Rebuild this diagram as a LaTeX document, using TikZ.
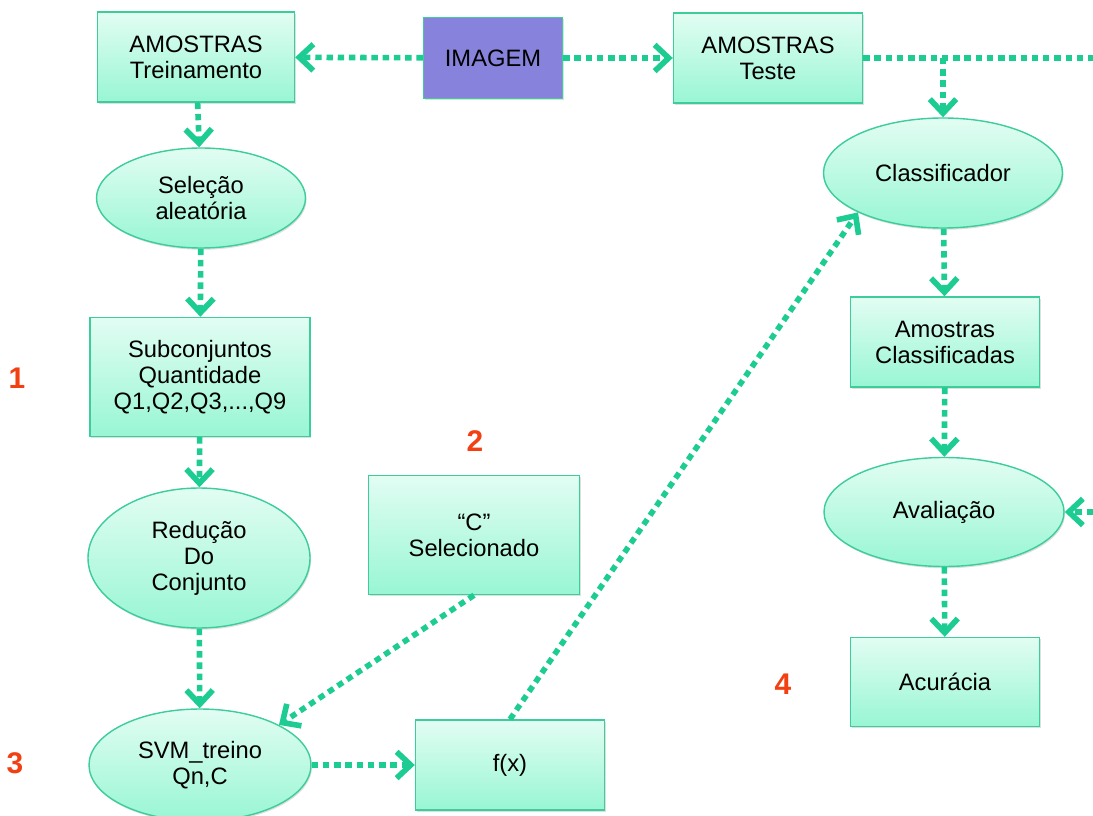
\documentclass[tikz,border=0pt]{standalone}
\usepackage{fontspec}
\setmainfont{Liberation Sans}
\usetikzlibrary{arrows.meta,shapes.geometric,shadows}

\definecolor{corfluxo}{RGB}{28,204,146}
\definecolor{borda}{RGB}{60,205,155}
\definecolor{mintA}{RGB}{226,253,243}
\definecolor{mintB}{RGB}{152,246,212}
\definecolor{roxo}{RGB}{135,131,220}
\definecolor{corpasso}{RGB}{242,64,18}

\tikzset{
  caixa/.style={rectangle, draw=borda, line width=0.8pt, top color=mintA, bottom color=mintB,
    drop shadow={shadow xshift=0.6pt, shadow yshift=-1pt, opacity=0.25},
    align=center, font=\fontsize{13.5}{14.8}\selectfont},
  elipse/.style={caixa, ellipse, inner sep=0pt},
  fluxo/.style={draw=corfluxo, line width=3.2pt, dash pattern=on 3.6pt off 2.8pt,
    -{Straight Barb[length=8pt,width=15pt]}},
  passo/.style={text=corpasso, font=\fontsize{17}{18}\selectfont\bfseries}
}

\begin{document}
\begin{tikzpicture}
\useasboundingbox ( 0.000000 , 0.000000 ) rectangle ( 21.860000 , -16.320000 );

% topo
\node[caixa, minimum width=3.94cm, minimum height=1.80cm] (treino) at ( 3.920000 , -1.140000 ) {AMOSTRAS\\Treinamento};
\node[caixa, fill=roxo, top color=roxo, bottom color=roxo, minimum width=2.78cm, minimum height=1.62cm] (imagem) at ( 9.860000 , -1.160000 ) {IMAGEM};
\node[caixa, minimum width=3.78cm, minimum height=1.80cm] (teste) at ( 15.360000 , -1.160000 ) {AMOSTRAS\\Teste};

% coluna esquerda
\node[elipse, minimum width=4.18cm, minimum height=2.00cm] (selecao) at ( 4.020000 , -3.960000 ) {Seleção\\aleatória};
\node[caixa, minimum width=4.40cm, minimum height=2.38cm] (subconj) at ( 4.000000 , -7.540000 ) {Subconjuntos\\Quantidade\\Q1,Q2,Q3,...,Q9};
\node[elipse, minimum width=4.44cm, minimum height=2.80cm] (reducao) at ( 3.980000 , -11.160000 ) {Redução\\Do\\Conjunto};
\node[elipse, minimum width=4.44cm, minimum height=2.24cm] (svm) at ( 4.000000 , -15.300000 ) {SVM\_treino\\Qn,C};

% meio
\node[caixa, minimum width=4.22cm, minimum height=2.38cm] (csel) at ( 9.480000 , -10.700000 ) {“C”\\Selecionado};
\node[caixa, minimum width=3.78cm, minimum height=1.80cm] (fx) at ( 10.200000 , -15.300000 ) {f(x)};

% coluna direita
\node[elipse, minimum width=4.78cm, minimum height=2.20cm] (classif) at ( 18.860000 , -3.460000 ) {Classificador};
\node[caixa, minimum width=3.78cm, minimum height=1.80cm] (amcl) at ( 18.900000 , -6.840000 ) {Amostras\\Classificadas};
\node[elipse, minimum width=4.80cm, minimum height=2.18cm] (aval) at ( 18.880000 , -10.240000 ) {Avaliação};
\node[caixa, minimum width=3.78cm, minimum height=1.78cm] (acur) at ( 18.900000 , -13.640000 ) {Acurácia};

% numeros
\node[passo] (n1) at ( 0.340000 , -7.560000 ) {1};
\node[passo] (n2) at ( 9.500000 , -8.820000 ) {2};
\node[passo] (n3) at ( 0.300000 , -15.260000 ) {3};
\node[passo] (n4) at ( 15.660000 , -13.680000 ) {4};

\coordinate (jct) at (classif.north |- teste.east);
\coordinate (saida) at ( 21.860000 , -1.160000 );
\coordinate (volta) at ( 21.860000 , -10.240000 );

% setas
\draw[fluxo] (imagem) -- (treino);
\draw[fluxo] (imagem) -- (teste);
\draw[fluxo, -] (teste.east) -- (saida);
\draw[fluxo] (jct) -- (classif.north);
\draw[fluxo] (treino) -- (selecao);
\draw[fluxo] (selecao) -- (subconj);
\draw[fluxo] (subconj) -- (reducao);
\draw[fluxo] (reducao) -- (svm);
\draw[fluxo] (csel.south) -- (svm.north east);
\draw[fluxo] (svm) -- (fx);
\draw[fluxo] (fx.north) -- (classif.south west);
\draw[fluxo] (classif) -- (amcl);
\draw[fluxo] (amcl) -- (aval);
\draw[fluxo] (aval) -- (acur);
\draw[fluxo] (volta) -- (aval.east);
\end{tikzpicture}
\end{document}
